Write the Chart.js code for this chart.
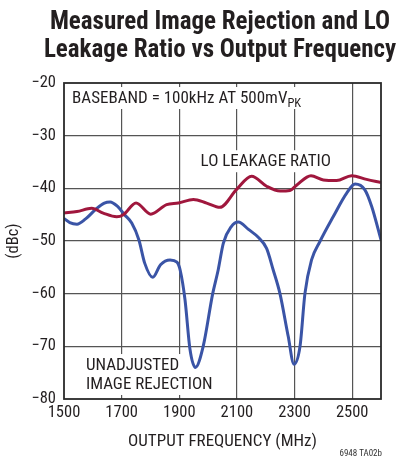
<!DOCTYPE html>
<html>
<head>
<meta charset="utf-8">
<script src="https://cdn.jsdelivr.net/npm/chart.js@4.4.0/dist/chart.umd.min.js"></script>
<style>
  body { margin: 0; background: #fff; }
  #wrap { position: relative; width: 406px; height: 460px; }
  #title {
    position: absolute; top: 7px; left: 34px; width: 372px;
    text-align: center; font: bold 25px 'Roboto Condensed', sans-serif;
    line-height: 28px; color: #231f20;
  }
  #code {
    position: absolute; top: 448px; right: 24px;
    font: 9px 'Roboto Condensed', sans-serif; color: #333;
  }
</style>
</head>
<body>
<div id="wrap">
  <canvas id="chartRejection" width="406" height="460"></canvas>
  <div id="title">Measured Image Rejection and LO<br>Leakage Ratio vs Output Frequency</div>
  <div id="code">6948 TA02b</div>
</div>
<script>
/* Rechazo de imagen sin ajustar (MHz, dBc) */
const rejFreq = [1500, 1520, 1545, 1575, 1610, 1640, 1660, 1685, 1710, 1735, 1760, 1780, 1808, 1835, 1868, 1892, 1903, 1920, 1937, 1956, 1983, 2016, 2035, 2053, 2080, 2105, 2140, 2174, 2203, 2226, 2249, 2278, 2298, 2319, 2336, 2359, 2388, 2434, 2481, 2510, 2544, 2568, 2600];
const rejDbc = [-45.7, -46.5, -46.8, -45.8, -44.0, -42.8, -42.6, -43.4, -45.0, -46.6, -49.8, -54.2, -56.9, -54.5, -53.6, -54.0, -55.5, -61.2, -70.5, -74.0, -70.0, -60.0, -55.5, -50.4, -47.3, -46.4, -47.8, -49.3, -51.4, -55.5, -59.9, -68.1, -73.4, -70.0, -60.0, -53.6, -50.1, -45.4, -40.9, -39.2, -40.3, -43.5, -49.8];

/* Fuga de LO */
const leakFreq = [1500, 1545, 1596, 1636, 1683, 1706, 1750, 1801, 1856, 1897, 1949, 1995, 2041, 2099, 2151, 2203, 2250, 2284, 2307, 2357, 2400, 2446, 2498, 2550, 2600];
const leakDbc = [-44.7, -44.4, -43.8, -44.7, -45.4, -45.0, -42.8, -44.9, -43.1, -42.8, -42.1, -42.8, -43.6, -40.2, -37.7, -39.6, -40.5, -40.4, -39.4, -37.6, -38.4, -38.5, -37.6, -38.3, -38.9];

const xTicks = [1500, 1700, 1900, 2100, 2300, 2500];
const yTicks = [-20, -30, -40, -50, -60, -70, -80];

/* Textos dentro del grafico (posicion en MHz / dBc) */
const notes = [
    { text: 'BASEBAND = 100kHz AT 500mV', sub: 'PK', x: 1528, y: -23.8 },
    { text: 'LO LEAKAGE RATIO', x: 1974, y: -35.8 },
    { text: 'UNADJUSTED', x: 1576, y: -74.5 },
    { text: 'IMAGE REJECTION', x: 1576, y: -78.1 },
];

const fontName = "'Roboto Condensed', sans-serif";
const ink = '#231f20';

toPoints = (xs, ys) => xs.map((x, i) => ({ x: x, y: ys[i] }));

const notesPlugin = {
    id: 'notes',
    beforeDatasetsDraw(chart) {
        const ctx = chart.ctx;
        const sx = chart.scales.x;
        const sy = chart.scales.y;
        ctx.save();
        ctx.textBaseline = 'alphabetic';
        ctx.textAlign = 'left';
        for (let n of notes) {
            const px = sx.getPixelForValue(n.x);
            const py = sy.getPixelForValue(n.y);
            ctx.font = '17px ' + fontName;
            let w = ctx.measureText(n.text).width;
            let subW = 0;
            if (n.sub) {
                ctx.font = '12.5px ' + fontName;
                subW = ctx.measureText(n.sub).width;
            }
            ctx.fillStyle = '#fff';
            ctx.fillRect(px - 3, py - 16, w + subW + 6, 22);
            ctx.fillStyle = ink;
            ctx.font = '17px ' + fontName;
            ctx.fillText(n.text, px, py);
            if (n.sub) {
                ctx.font = '12.5px ' + fontName;
                ctx.fillText(n.sub, px + w, py + 3.5);
            }
        }
        ctx.restore();
    },
    afterDraw(chart) {
        // marco del area de grafico
        const a = chart.chartArea;
        const ctx = chart.ctx;
        ctx.save();
        ctx.strokeStyle = '#2a2a2a';
        ctx.lineWidth = 1.8;
        ctx.strokeRect(a.left, a.top, a.right - a.left, a.bottom - a.top);
        ctx.restore();
    }
};

const cnv = document.getElementById('chartRejection');
const chartRejection = new Chart(cnv, {
    type: 'scatter',
    data: {
        datasets: [{
            label: 'LO LEAKAGE RATIO',
            data: toPoints(leakFreq, leakDbc),
            showLine: true,
            borderColor: '#a0173d',
            borderWidth: 3,
            pointRadius: 0,
            cubicInterpolationMode: 'monotone',
        }, {
            label: 'UNADJUSTED IMAGE REJECTION',
            data: toPoints(rejFreq, rejDbc),
            showLine: true,
            borderColor: '#3a54a6',
            borderWidth: 3,
            pointRadius: 0,
            cubicInterpolationMode: 'monotone',
        }, ],
    },
    options: {
        responsive: false,
        animation: false,
        devicePixelRatio: 1,
        layout: {
            padding: { top: 83, right: 25, left: 0, bottom: 0 },
        },
        scales: {
            x: {
                type: 'linear',
                min: 1500,
                max: 2600,
                afterBuildTicks: (axis) => { axis.ticks = xTicks.map(v => ({ value: v })); },
                afterFit: (axis) => { axis.height = 61; },
                border: { display: false },
                grid: {
                    drawTicks: false,
                    color: (c) => c.tick && c.tick.value === 1500 ? 'rgba(0,0,0,0)' : '#555',
                    lineWidth: 1.2,
                },
                ticks: {
                    padding: 4,
                    color: ink,
                    font: { family: fontName, size: 16.5 },
                    maxRotation: 0,
                    callback: (v) => String(v),
                },
                title: {
                    display: true,
                    text: 'OUTPUT FREQUENCY (MHz)',
                    color: ink,
                    font: { family: fontName, size: 17 },
                    padding: { top: 0, bottom: 8 },
                },
            },
            y: {
                min: -80,
                max: -20,
                afterBuildTicks: (axis) => { axis.ticks = yTicks.map(v => ({ value: v })); },
                afterFit: (axis) => { axis.width = 64; },
                border: { display: false },
                grid: {
                    drawTicks: false,
                    color: (c) => c.tick && (c.tick.value === -20 || c.tick.value === -80) ? 'rgba(0,0,0,0)' : '#555',
                    lineWidth: 1.2,
                },
                ticks: {
                    padding: 8,
                    color: ink,
                    font: { family: fontName, size: 16.5 },
                    callback: (v) => String(v).replace('-', '\u2212'),
                },
                title: {
                    display: true,
                    text: '(dBc)',
                    color: ink,
                    font: { family: fontName, size: 16.5 },
                    padding: 4,
                },
            },
        },
        plugins: {
            legend: { display: false },
            tooltip: { enabled: false },
        },
    },
    plugins: [notesPlugin],
});
</script>
</body>
</html>
